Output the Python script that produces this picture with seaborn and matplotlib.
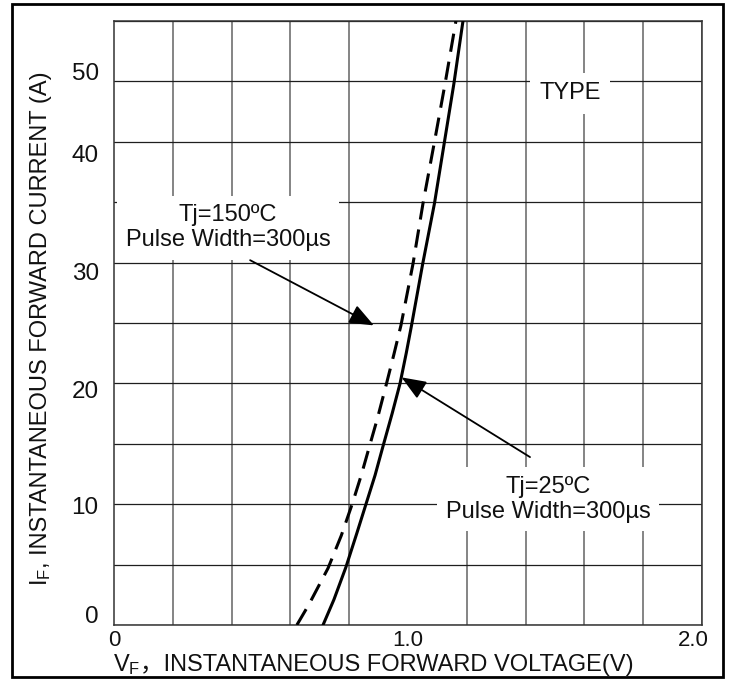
import matplotlib
matplotlib.use("Agg")
import matplotlib.pyplot as plt
from matplotlib.patches import Rectangle
import numpy as np
import seaborn as sns

# ---- data ----
vf_25 = [0.711, 0.748, 0.789, 0.826, 0.857, 0.888, 0.915, 0.946, 0.973, 0.994, 1.012,
         1.050, 1.090, 1.124, 1.156, 1.187]
if_25 = [0.0, 2.1, 4.8, 7.6, 10.0, 12.4, 14.8, 17.5, 20.0, 22.5, 24.8,
         29.9, 34.9, 40.0, 44.8, 50.0]
vf_150 = [0.622, 0.663, 0.728, 0.773, 0.810, 0.841, 0.869, 0.896, 0.926, 0.952, 0.976,
          1.017, 1.051, 1.090, 1.126, 1.163]
if_150 = [0.0, 1.7, 4.7, 7.4, 10.0, 12.4, 14.8, 17.1, 19.9, 22.4, 24.8,
          29.9, 34.9, 40.0, 44.8, 50.0]

xtick_labels = ["0", "1.0", "2.0"]
xtick_pos = [0.0, 1.0, 1.97]
ytick_labels = ["0", "10", "20", "30", "40", "50"]
ytick_pos = [0.83, 9.9, 19.5, 29.3, 39.0, 45.8]

label_150 = "Tj=150ºC\nPulse Width=300µs"
label_25 = "Tj=25ºC\nPulse Width=300µs"
label_type = "TYPE"

sns.set_theme(style="white")
plt.rcParams["font.family"] = ["Liberation Sans", "Noto Sans CJK SC", "DejaVu Sans"]
plt.rcParams["mathtext.fontset"] = "custom"
plt.rcParams["mathtext.rm"] = "Liberation Sans"
plt.rcParams["mathtext.default"] = "regular"

W, H = 731, 680
fig = plt.figure(figsize=(W / 100, H / 100), dpi=100)
fig.patch.set_facecolor("white")
ax = fig.add_axes([114 / W, 55 / H, 588 / W, 604 / H])
ax.set_facecolor("white")

# outer frame
fig.add_artist(Rectangle((12 / W, 3 / H), 711 / W, 673 / H, transform=fig.transFigure,
                         fill=False, edgecolor="black", linewidth=2.0))

ax.set_xlim(0, 2.0)
ax.set_ylim(0, 50)

# grid
ax.set_xticks(np.arange(0, 2.01, 0.2), minor=True)
ax.set_yticks(np.arange(0, 50.1, 5), minor=True)
ax.grid(False)
ax.grid(which="minor", axis="x", color="#707070", linewidth=1.2, zorder=0)
ax.grid(which="minor", axis="y", color="#1e1e1e", linewidth=0.9, zorder=0)
ax.set_axisbelow(True)

ax.set_xticks(xtick_pos)
ax.set_xticklabels(xtick_labels)
ax.set_yticks(ytick_pos)
ax.set_yticklabels(ytick_labels)
ax.tick_params(which="both", length=0)
ax.tick_params(axis="x", which="major", labelsize=16, pad=3.5, colors="#111111")
ax.tick_params(axis="y", which="major", labelsize=17.5, pad=11, colors="#111111")
for s in ax.spines.values():
    s.set_color("#333333")
    s.set_linewidth(1.1)

# curves
sns.lineplot(x=vf_25, y=if_25, ax=ax, color="black", linewidth=2.2, sort=False, zorder=3)
sns.lineplot(x=vf_150, y=if_150, ax=ax, color="black", linewidth=2.2, sort=False,
             linestyle=(0, (6, 3.3)), zorder=3)

box = dict(boxstyle="square,pad=0.35", facecolor="white", edgecolor="none")
ax.text(0.388, 32.9, label_150, ha="center", va="center", multialignment="center",
        fontsize=17, color="#111111", bbox=box, zorder=4)
ax.text(1.476, 10.4, label_25, ha="center", va="center", multialignment="center",
        fontsize=17, color="#111111", bbox=box, zorder=4)
ax.text(1.551, 44.0, label_type, ha="center", va="center", fontsize=17, color="#111111",
        bbox=dict(boxstyle="square,pad=0.4", facecolor="white", edgecolor="none"), zorder=4)

arrow = dict(arrowstyle="-|>,head_length=1.5,head_width=0.6", color="black",
             linewidth=1.3, mutation_scale=10, shrinkA=0, shrinkB=0)
ax.annotate("", xy=(0.884, 24.8), xytext=(0.463, 30.2), arrowprops=arrow, zorder=5)
ax.annotate("", xy=(0.978, 20.5), xytext=(1.415, 13.9), arrowprops=arrow, zorder=5)

# axis labels
ty = fig.text(47 / W, 1 - 586 / H, r"$\mathregular{I_F}$", rotation=90, rotation_mode="anchor",
              ha="left", va="baseline", fontsize=17, color="#111111")
ax.annotate(", INSTANTANEOUS FORWARD CURRENT (A)", xy=(47 / W, 1.0),
            xycoords=("figure fraction", ty), rotation=90, rotation_mode="anchor",
            ha="left", va="baseline", fontsize=17, color="#111111", annotation_clip=False)

tx = fig.text(113 / W, 1 - 671 / H, r"$\mathregular{V_F}$", ha="left", va="baseline",
              fontsize=17, color="#111111")
ax.annotate("，INSTANTANEOUS FORWARD VOLTAGE(V)", xy=(1.0, 1 - 671 / H),
            xycoords=(tx, "figure fraction"), ha="left", va="baseline", fontsize=17,
            color="#111111", annotation_clip=False,
            family=["Liberation Sans", "Noto Sans CJK SC"])

fig.savefig("out.png", dpi=100)
